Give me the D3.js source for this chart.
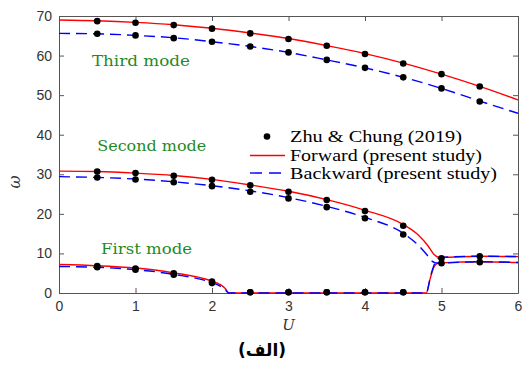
<!DOCTYPE html>
<html>
<head>
<meta charset="utf-8">
<script src="https://cdn.jsdelivr.net/npm/d3@7"></script>
<style>
  body { margin: 0; background: #fff; }
  svg { display: block; }
</style>
</head>
<body>
<svg id="chart" width="522" height="365"></svg>
<script>
const width = 522;
const height = 365;
const margin = { top: 16, right: 4, bottom: 72, left: 59 };

// Present study curves (U, omega)
const thirdU = [0, 0.5, 1, 1.5, 2, 2.5, 3, 3.5, 4, 4.5, 5, 5.5, 6];
const thirdFwd = [69.0, 68.8, 68.4, 67.8, 66.9, 65.7, 64.3, 62.5, 60.5, 58.1, 55.3, 52.2, 48.8];
const thirdBwd = [65.6, 65.5, 65.1, 64.5, 63.5, 62.3, 60.8, 58.9, 56.9, 54.5, 51.7, 48.5, 45.4];

const secondFwdU = [0, 0.5, 1, 1.5, 2, 2.5, 3, 3.5, 4, 4.5, 4.7, 4.82, 4.9, 4.95, 5, 5.5, 6];
const secondFwd = [30.8, 30.7, 30.3, 29.7, 28.7, 27.3, 25.7, 23.6, 20.9, 17.3, 14.6, 12.0, 9.8, 9.1, 9.0, 9.3, 9.2];
const secondBwdU = [0, 0.5, 1, 1.5, 2, 2.5, 3, 3.5, 4, 4.5, 4.7, 4.82, 4.88, 4.93, 5, 5.5, 6];
const secondBwd = [29.4, 29.2, 28.8, 28.1, 27.1, 25.8, 24.1, 21.9, 19.1, 15.1, 12.0, 9.4, 8.0, 7.6, 7.6, 7.9, 7.7];

const firstFwdU = [0, 0.5, 1, 1.5, 2, 2.1, 2.17, 2.22, 4.8, 4.85, 4.9, 4.95, 5, 5.5, 6];
const firstFwd = [7.2, 6.9, 6.3, 5.1, 3.0, 2.2, 1.2, 0, 0, 3.5, 6.5, 7.5, 7.6, 7.9, 7.7];
const firstBwdU = [0, 0.5, 1, 1.5, 2, 2.1, 2.17, 2.22, 4.8, 4.86, 4.92, 4.97, 5, 5.5, 6];
const firstBwd = [6.7, 6.5, 5.9, 4.7, 2.6, 1.8, 0.9, 0, 0, 4.5, 7.8, 8.9, 9.0, 9.3, 9.2];

// Zhu & Chung (2019) points
const zhuThirdU = [0.5, 1, 1.5, 2, 2.5, 3, 3.5, 4, 4.5, 5, 5.5];
const zhuThirdFwd = [68.7, 68.3, 67.7, 66.8, 65.6, 64.2, 62.5, 60.4, 58.0, 55.3, 52.2];
const zhuThirdBwd = [65.5, 65.1, 64.4, 63.5, 62.3, 60.8, 58.9, 56.9, 54.5, 51.7, 48.4];
const zhuSecondU = [0.5, 1, 1.5, 2, 2.5, 3, 3.5, 4, 4.5, 5, 5.5];
const zhuSecondFwd = [30.7, 30.3, 29.6, 28.6, 27.2, 25.6, 23.5, 20.7, 17.0, 8.8, 9.3];
const zhuSecondBwd = [29.2, 28.7, 28.0, 27.0, 25.6, 23.9, 21.7, 18.9, 14.8, 7.5, 7.8];
const zhuFirstU = [0.5, 1, 1.5, 2, 2.5, 3, 3.5, 4, 4.5];
const zhuFirstFwd = [6.8, 6.2, 5.0, 2.9, 0.2, 0.2, 0.2, 0.2, 0.2];
const zhuFirstBwd = [6.5, 5.9, 4.6, 2.5, 0.2, 0.2, 0.2, 0.2, 0.2];

const xTicks = [0, 1, 2, 3, 4, 5, 6];
const yTicks = [0, 10, 20, 30, 40, 50, 60, 70];
const modeLabels = [
  { text: "Third mode", u: 0.43, w: 57.4, len: 98 },
  { text: "Second mode", u: 0.5, w: 35.9, len: 109 },
  { text: "First mode", u: 0.55, w: 9.9, len: 91 }
];

const svg = d3.select("#chart");
const plotW = width - margin.left - margin.right;
const plotH = height - margin.top - margin.bottom;

const x = d3.scaleLinear().domain([0, 6]).range([margin.left, margin.left + plotW]);
const y = d3.scaleLinear().domain([0, 70]).range([margin.top + plotH, margin.top]);

const axisColor = "#555";

svg.append("clipPath").attr("id", "clip")
  .append("rect")
  .attr("x", margin.left).attr("y", margin.top)
  .attr("width", plotW).attr("height", plotH + 1);

// axes
const gx = svg.append("g")
  .attr("transform", "translate(0," + (margin.top + plotH) + ")")
  .call(d3.axisBottom(x).tickValues(xTicks).tickFormat(d3.format("d"))
    .tickSizeInner(-5).tickSizeOuter(0).tickPadding(8));
const gy = svg.append("g")
  .attr("transform", "translate(" + margin.left + ",0)")
  .call(d3.axisLeft(y).tickValues(yTicks).tickSizeInner(-5).tickSizeOuter(0).tickPadding(7));
const gt = svg.append("g")
  .attr("transform", "translate(0," + margin.top + ")")
  .call(d3.axisTop(x).tickValues(xTicks).tickSizeInner(-5).tickSizeOuter(0).tickFormat(""));
const gr = svg.append("g")
  .attr("transform", "translate(" + (margin.left + plotW) + ",0)")
  .call(d3.axisRight(y).tickValues(yTicks).tickSizeInner(-5).tickSizeOuter(0).tickFormat(""));

[gx, gy, gt, gr].forEach((g) => {
  g.select(".domain").attr("stroke", axisColor).attr("stroke-width", 1);
  g.selectAll(".tick line").attr("stroke", axisColor);
  g.selectAll(".tick text")
    .attr("fill", "#333")
    .style("font-family", "'Liberation Sans', Arial, sans-serif")
    .style("font-size", "14px");
});

// lines
const line = d3.line()
  .x((d) => x(d[0]))
  .y((d) => y(d[1]))
  .curve(d3.curveMonotoneX);

const zip = (us, ws) => us.map((u, i) => [u, ws[i]]);

const plot = svg.append("g").attr("clip-path", "url(#clip)");

const fwdSeries = [zip(thirdU, thirdFwd), zip(secondFwdU, secondFwd), zip(firstFwdU, firstFwd)];
const bwdSeries = [zip(thirdU, thirdBwd), zip(secondBwdU, secondBwd), zip(firstBwdU, firstBwd)];

plot.selectAll("path.fwd")
  .data(fwdSeries)
  .enter()
  .append("path")
  .attr("class", "fwd")
  .attr("d", line)
  .attr("fill", "none")
  .attr("stroke", "#ff0000")
  .attr("stroke-width", 1.4);

plot.selectAll("path.bwd")
  .data(bwdSeries)
  .enter()
  .append("path")
  .attr("class", "bwd")
  .attr("d", line)
  .attr("fill", "none")
  .attr("stroke", "#0000ff")
  .attr("stroke-width", 1.4)
  .attr("stroke-dasharray", "11,6");

// Zhu & Chung points
const dots = [].concat(
  zip(zhuThirdU, zhuThirdFwd), zip(zhuThirdU, zhuThirdBwd),
  zip(zhuSecondU, zhuSecondFwd), zip(zhuSecondU, zhuSecondBwd),
  zip(zhuFirstU, zhuFirstFwd), zip(zhuFirstU, zhuFirstBwd)
);

svg.append("g").selectAll("circle")
  .data(dots)
  .enter()
  .append("circle")
  .attr("cx", (d) => x(d[0]))
  .attr("cy", (d) => y(d[1]))
  .attr("r", 3.3)
  .attr("fill", "#000");

// mode labels
svg.append("g").selectAll("text")
  .data(modeLabels)
  .enter()
  .append("text")
  .attr("x", (d) => x(d.u))
  .attr("y", (d) => y(d.w))
  .attr("textLength", (d) => d.len)
  .attr("lengthAdjust", "spacingAndGlyphs")
  .attr("fill", "#1f8a1f")
  .style("font-family", "'DejaVu Serif', serif")
  .style("font-size", "14px")
  .text((d) => d.text);

// legend
const legend = svg.append("g").style("font-family", "'Liberation Serif', 'Times New Roman', serif").style("font-size", "17px");
const legendItems = [
  { label: "Zhu & Chung (2019)", type: "dot", cy: 136.5, len: 172 },
  { label: "Forward (present study)", type: "fwd", cy: 155.5, len: 192 },
  { label: "Backward (present study)", type: "bwd", cy: 173, len: 207 }
];
legendItems.forEach((it) => {
  if (it.type === "dot") {
    legend.append("circle").attr("cx", 267).attr("cy", it.cy).attr("r", 3.3).attr("fill", "#000");
  } else {
    legend.append("line")
      .attr("x1", 250).attr("x2", 285)
      .attr("y1", it.cy).attr("y2", it.cy)
      .attr("stroke", it.type === "fwd" ? "#ff0000" : "#0000ff")
      .attr("stroke-width", 1.4)
      .attr("stroke-dasharray", it.type === "bwd" ? "12,7" : null);
  }
  legend.append("text")
    .attr("x", 290)
    .attr("y", it.cy + 5.5)
    .attr("textLength", it.len)
    .attr("lengthAdjust", "spacingAndGlyphs")
    .attr("fill", "#000")
    .text(it.label);
});

// axis titles
svg.append("text")
  .attr("transform", "translate(20,182) rotate(-90)")
  .attr("text-anchor", "middle")
  .attr("fill", "#333")
  .style("font-family", "'DejaVu Serif', serif")
  .style("font-style", "italic")
  .style("font-size", "16px")
  .text("ω");

svg.append("text")
  .attr("x", x(3))
  .attr("y", 330)
  .attr("text-anchor", "middle")
  .attr("fill", "#333")
  .style("font-family", "'DejaVu Serif', serif")
  .style("font-style", "italic")
  .style("font-size", "15px")
  .text("U");

svg.append("text")
  .attr("x", 262)
  .attr("y", 356)
  .attr("text-anchor", "middle")
  .attr("fill", "#000")
  .style("font-family", "'DejaVu Sans', sans-serif")
  .style("font-weight", "bold")
  .style("font-size", "17px")
  .text("(الف)");
</script>
</body>
</html>
